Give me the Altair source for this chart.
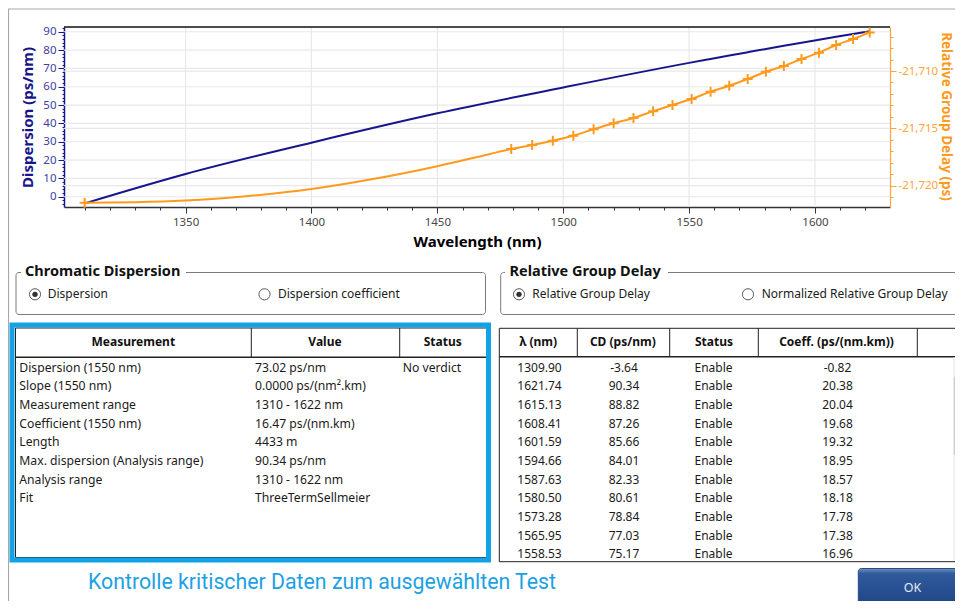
import altair as alt
import pandas as pd

# ---------------- chart values ----------------
x_ticks = [1350, 1400, 1450, 1500, 1550, 1600]
x_minor = [1310, 1320, 1330, 1340, 1360, 1370, 1380, 1390, 1410, 1420, 1430, 1440,
           1460, 1470, 1480, 1490, 1510, 1520, 1530, 1540, 1560, 1570, 1580, 1590, 1610, 1620]
disp_ticks = [0, 10, 20, 30, 40, 50, 60, 70, 80, 90]
disp_minor = list(range(-4, 93, 2))
rgd_ticks = [-21710, -21715, -21720]
rgd_minor = [-21707, -21708, -21709, -21711, -21712, -21713, -21714,
             -21716, -21717, -21718, -21719, -21721]

# dispersion fit (ps/nm)
fit_wl = [1309.90, 1350.0, 1400.0, 1450.0, 1500.0, 1550.0, 1558.53, 1565.95, 1573.28,
          1580.50, 1587.63, 1594.66, 1601.59, 1608.41, 1615.13, 1621.74]
fit_cd = [-3.64, 12.4, 29.5, 45.5, 59.6, 73.02, 75.17, 77.03, 78.84,
          80.61, 82.33, 84.01, 85.66, 87.26, 88.82, 90.34]

# relative group delay, fitted part without measured points (ps)
rgd_fit_wl = [1330.0, 1350.0, 1375.0, 1400.0, 1425.0, 1450.0, 1465.0]
rgd_fit = [-21721.44, -21721.30, -21720.90, -21720.29, -21719.40, -21718.30, -21717.55]

# measured points (wavelength, relative group delay)
meas_wl = [1309.90, 1479.35, 1487.65, 1495.87, 1504.01, 1512.06, 1520.03, 1527.91, 1535.70,
           1543.40, 1551.01, 1558.53, 1565.95, 1573.28, 1580.50, 1587.63, 1594.66,
           1601.59, 1608.41, 1615.13, 1621.74]
meas_rgd = [-21721.48, -21716.80, -21716.45, -21716.08, -21715.64, -21715.08, -21714.56,
            -21714.10, -21713.51, -21712.96, -21712.44, -21711.80, -21711.28, -21710.70,
            -21710.06, -21709.56, -21708.95, -21708.40, -21707.73, -21707.21, -21706.63]

# results table
res_names = ["Dispersion (1550 nm)", "Slope (1550 nm)", "Measurement range",
             "Coefficient (1550 nm)", "Length", "Max. dispersion (Analysis range)",
             "Analysis range", "Fit"]
res_values = ["73.02 ps/nm", "0.0000 ps/(nm\u00b2.km)", "1310 - 1622 nm", "16.47 ps/(nm.km)",
              "4433 m", "90.34 ps/nm", "1310 - 1622 nm", "ThreeTermSellmeier"]
res_status = ["No verdict", "", "", "", "", "", "", ""]
res_headers = ["Measurement", "Value", "Status"]

# point table (visible rows)
pt_wl = [1309.90, 1621.74, 1615.13, 1608.41, 1601.59, 1594.66, 1587.63, 1580.50, 1573.28, 1565.95, 1558.53]
pt_cd = [-3.64, 90.34, 88.82, 87.26, 85.66, 84.01, 82.33, 80.61, 78.84, 77.03, 75.17]
pt_status = ["Enable"] * 11
pt_coeff = [-0.82, 20.38, 20.04, 19.68, 19.32, 18.95, 18.57, 18.18, 17.78, 17.38, 16.96]
pt_headers = ["\u03bb (nm)", "CD (ps/nm)", "Status", "Coeff. (ps/(nm.km))"]

group_titles = ["Chromatic Dispersion", "Relative Group Delay"]
radio_labels = ["Dispersion", "Dispersion coefficient", "Relative Group Delay",
                "Normalized Relative Group Delay"]
radio_selected = [True, False, True, False]
caption = "Kontrolle kritischer Daten zum ausgew\u00e4hlten Test"
button_text = "OK"

# ---------------- layout & style ----------------
W, H, M = 947, 593, 8          # view size, page margin (screen px = view px + M)
FONT = "Noto Sans"
NAVY = "#16168c"
NAVY_LBL = "#3e3ea2"
ORANGE = "#ff9a1f"
ORANGE_LBL = "#ffa43a"
GRID = "#e8e8e8"
TXT = "#1b1b1b"
CYAN = "#12a3e6"

PX1, PX2, PY1, PY2 = 64, 890, 27, 207   # plot area (screen px)

ONE = pd.DataFrame({"k": [0]})


def vx(v):
    return alt.value(v - M)


def vy(v):
    return alt.value(v - M)


def box(x1, y1, x2, y2, **kw):
    return alt.Chart(ONE).mark_rect(**kw).encode(x=vx(x1), x2=vx(x2), y=vy(y1), y2=vy(y2))


def hline(x1, x2, y, **kw):
    return alt.Chart(ONE).mark_rule(**kw).encode(x=vx(x1), x2=vx(x2), y=vy(y))


def vline(x, y1, y2, **kw):
    return alt.Chart(ONE).mark_rule(**kw).encode(x=vx(x), y=vy(y1), y2=vy(y2))


def label(x, y, s, **kw):
    return alt.Chart(ONE).mark_text(text=s, **kw).encode(x=vx(x), y=vy(y))


XS = alt.Scale(domain=[1301.7, 1629.8], range=[PX1 - M, PX2 - M], nice=False, zero=False)
YL = alt.Scale(domain=[-5.6, 92.6], range=[PY2 - M, PY1 - M], nice=False, zero=False)
YR = alt.Scale(domain=[-21721.86, -21706.16], range=[PY2 - M, PY1 - M], nice=False, zero=False)
OFF_B = -(H - (PY2 - M))
OFF_L = -(PX1 - M)
OFF_R = -(W - (PX2 - M))

layers = []

# window frame
layers.append(hline(8, 980, 9, color="#a8a8a8", strokeWidth=1.2))
layers.append(vline(8.5, 9, 620, color="#a8a8a8", strokeWidth=1.2))

# grid + minor ticks
layers.append(alt.Chart(pd.DataFrame({"v": x_ticks})).mark_rule(color=GRID, strokeWidth=1.2).encode(
    x=alt.X("v:Q", scale=XS, axis=alt.Axis(orient="bottom", offset=OFF_B, values=x_minor, labels=False,
                                           domain=False, grid=False, tickSize=3, tickColor="#333", title=None)),
    y=vy(PY1), y2=vy(PY2)))
layers.append(alt.Chart(pd.DataFrame({"v": disp_ticks})).mark_rule(color=GRID, strokeWidth=1.2).encode(
    y=alt.Y("v:Q", scale=YL, axis=alt.Axis(orient="left", offset=OFF_L, values=disp_minor, labels=False,
                                           domain=False, grid=False, tickSize=2, tickColor=NAVY, title=None)),
    x=vx(PX1), x2=vx(PX2)))
layers.append(alt.Chart(pd.DataFrame({"v": rgd_ticks})).mark_rule(color=GRID, strokeWidth=1.2).encode(
    y=alt.Y("v:Q", scale=YR, axis=alt.Axis(orient="right", offset=OFF_R, values=rgd_minor, labels=False,
                                           domain=False, grid=False, tickSize=3, tickColor=ORANGE_LBL, title=None)),
    x=vx(PX1), x2=vx(PX2)))

# plot top border
layers.append(hline(PX1, PX2, PY1, color="#111", strokeWidth=1.5))

# dispersion line with bottom + left axes
disp_df = pd.DataFrame({"wl": fit_wl, "cd": fit_cd})
layers.append(alt.Chart(disp_df).mark_line(color=NAVY, strokeWidth=2, interpolate="monotone").encode(
    x=alt.X("wl:Q", scale=XS, axis=alt.Axis(
        orient="bottom", offset=OFF_B, values=x_ticks, format="d", grid=False,
        title="Wavelength (nm)", titleFontSize=15, titleFontWeight="bold", titleColor="#000",
        titleX=477 - M, titleY=241 - PY2, titleAngle=0, titleBaseline="middle", titleAlign="center",
        labelColor="#474747", labelFontSize=11.5, labelPadding=3, labelFlush=False,
        tickSize=6, tickColor="#333", domainColor="#333", domainWidth=1.5)),
    y=alt.Y("cd:Q", scale=YL, axis=alt.Axis(
        orient="left", offset=OFF_L, values=disp_ticks, format="d", grid=False,
        title="Dispersion (ps/nm)", titleFontSize=15, titleFontWeight="bold", titleColor=NAVY,
        titleX=27 - PX1, titleY=117 - M, titleAngle=270, titleBaseline="middle", titleAlign="center",
        labelColor=NAVY_LBL, labelFontSize=11.5, labelPadding=2,
        tickSize=6, tickColor=NAVY, domainColor=NAVY, domainWidth=1.5))))

# relative group delay line with right axis (title kept inside the visible page)
rgd_df = pd.DataFrame({"wl": [meas_wl[0]] + rgd_fit_wl + meas_wl[1:],
                       "rgd": [meas_rgd[0]] + rgd_fit + meas_rgd[1:]})
layers.append(alt.Chart(rgd_df).mark_line(color=ORANGE, strokeWidth=2, interpolate="monotone").encode(
    x=alt.X("wl:Q", scale=XS, axis=None),
    y=alt.Y("rgd:Q", scale=YR, axis=alt.Axis(
        orient="right", offset=OFF_R, values=rgd_ticks, grid=False,
        labelExpr="'-' + format(abs(datum.value), ',')",
        title="Relative Group Delay (ps)", titleFontSize=13.5, titleFontWeight="bold", titleColor=ORANGE,
        titleX=945 - PX2, titleY=116 - M, titleAngle=90, titleBaseline="middle", titleAlign="center",
        labelColor=ORANGE_LBL, labelFontSize=11.5, labelPadding=2,
        tickSize=6, tickColor=ORANGE_LBL, domainColor=ORANGE_LBL, domainWidth=1.2))))

meas_df = pd.DataFrame({"wl": meas_wl, "rgd": meas_rgd})
layers.append(alt.Chart(meas_df).mark_point(shape="M-1,0L1,0M0,-1L0,1", size=100, filled=False,
                                            color=ORANGE, strokeWidth=2, opacity=1).encode(
    x=alt.X("wl:Q", scale=XS, axis=None),
    y=alt.Y("rgd:Q", scale=YR, axis=None)))

# ---------------- group boxes with radio buttons ----------------
GB_Y1, GB_Y2 = 272.5, 314.5
group_boxes = [(16, 485.5, 25, 21, 186), (500.7, 990, 509.5, 505, 668)]
for (x1, x2, tx, g1, g2), ttl in zip(group_boxes, group_titles):
    layers.append(box(x1, GB_Y1, x2, GB_Y2, filled=False, color="#7b7b7b", strokeWidth=1, cornerRadius=3))
    layers.append(box(g1, GB_Y1 - 4, g2, GB_Y1 + 4, color="white"))
    layers.append(label(tx, 271.5, ttl, align="left", baseline="middle", fontSize=14.5,
                        fontWeight="bold", color="#111"))

RADIO_Y = 294.3
radio_pos = [(35, 47.7), (264.5, 278), (519, 532.3), (748, 761.7)]
for (cx, tx), txt, on in zip(radio_pos, radio_labels, radio_selected):
    layers.append(alt.Chart(ONE).mark_point(shape="circle", size=125, filled=False, color="#5c5c5c",
                                            strokeWidth=1, opacity=1).encode(x=vx(cx), y=vy(RADIO_Y)))
    if on:
        layers.append(alt.Chart(ONE).mark_point(shape="circle", size=28, filled=True, color="#333",
                                                opacity=1).encode(x=vx(cx), y=vy(RADIO_Y)))
    layers.append(label(tx, RADIO_Y, txt, align="left", baseline="middle", fontSize=12, color=TXT))

# ---------------- results table (left) ----------------
layers.append(box(15.5, 328, 486.8, 557.5, filled=False, color="#222", strokeWidth=1))
layers.append(hline(15.5, 486.8, 357.3, color="#222", strokeWidth=1.5))
for x in (251.3, 399.7):
    layers.append(vline(x, 328, 357.3, color="#222", strokeWidth=1))
for x, h in zip((133.3, 325, 442.7), res_headers):
    layers.append(label(x, 342.3, h, align="center", baseline="middle", fontSize=12,
                        fontWeight="bold", color="#111"))
layers.append(box(12, 325, 488.5, 560, filled=False, color=CYAN, strokeWidth=5))

ROWS = alt.Scale(domain=[0, 10], range=[367.7 - M, 554.3 - M])
res_df = pd.DataFrame({"row": list(range(len(res_names))), "name": res_names,
                       "value": res_values, "status": res_status})
for field, x in (("name", 19.3), ("value", 255), ("status", 402.7)):
    layers.append(alt.Chart(res_df).mark_text(align="left", baseline="middle", fontSize=12.2, color=TXT).encode(
        x=vx(x), y=alt.Y("row:Q", scale=ROWS, axis=None), text=alt.Text(f"{field}:N")))

# ---------------- point table (right) ----------------
layers.append(box(499.3, 328.3, 990, 561.7, filled=False, color="#222", strokeWidth=1))
layers.append(hline(499.3, 990, 356.7, color="#222", strokeWidth=1.5))
for x in (577.3, 669.7, 758.3, 917.3):
    layers.append(vline(x, 328.3, 356.7, color="#222", strokeWidth=1))
for x, h in zip((538.3, 622.8, 714, 836.5), pt_headers):
    layers.append(label(x, 342.3, h, align="center", baseline="middle", fontSize=12,
                        fontWeight="bold", color="#111"))

pt_df = pd.DataFrame({"row": list(range(len(pt_wl))),
                      "wl": [f"{v:.2f}" for v in pt_wl],
                      "cd": [f"{v:.2f}" for v in pt_cd],
                      "status": pt_status,
                      "coeff": [f"{v:.2f}" for v in pt_coeff]})
for field, x in (("wl", 539.5), ("cd", 624), ("status", 713.5), ("coeff", 837.5)):
    layers.append(alt.Chart(pt_df).mark_text(align="center", baseline="middle", fontSize=12, color=TXT).encode(
        x=vx(x), y=alt.Y("row:Q", scale=ROWS, axis=None), text=alt.Text(f"{field}:N")))

# scrollbar (mostly beyond the right page edge, as in the reference)
layers.append(box(953.3, 357.5, 970, 561, color="#f0f0f0"))
layers.append(box(953.8, 376.7, 970, 455, color="#cdcdcd"))

# caption
layers.append(label(88, 589, caption, align="left", baseline="alphabetic", font="Roboto",
                    fontSize=21.3, color="#1ca1e4"))

# OK button
ok_fill = alt.Gradient(gradient="linear", x1=0, x2=0, y1=0, y2=1,
                       stops=[alt.GradientStop(offset=0, color="#6f90c2"),
                              alt.GradientStop(offset=0.1, color="#2f5a9c"),
                              alt.GradientStop(offset=1, color="#1a3c7c")])
layers.append(alt.Chart(ONE).mark_rect(fill=ok_fill, cornerRadius=3, stroke="#2a4a80", strokeWidth=1).encode(
    x=vx(858.3), x2=vx(975), y=vy(568.5), y2=vy(620)))
layers.append(label(912.5, 587.5, button_text, align="center", baseline="middle", fontSize=12.5,
                    color="#e4ebf4"))

chart = alt.layer(*layers).resolve_scale(x="independent", y="independent").properties(
    width=W, height=H, padding=0, autosize=alt.AutoSizeParams(type="none"), background="white"
).configure_view(stroke=None).configure_axis(labelFont=FONT, titleFont=FONT).configure_text(font=FONT)

chart.save("out.html", embed_options={"renderer": "svg", "actions": False})
